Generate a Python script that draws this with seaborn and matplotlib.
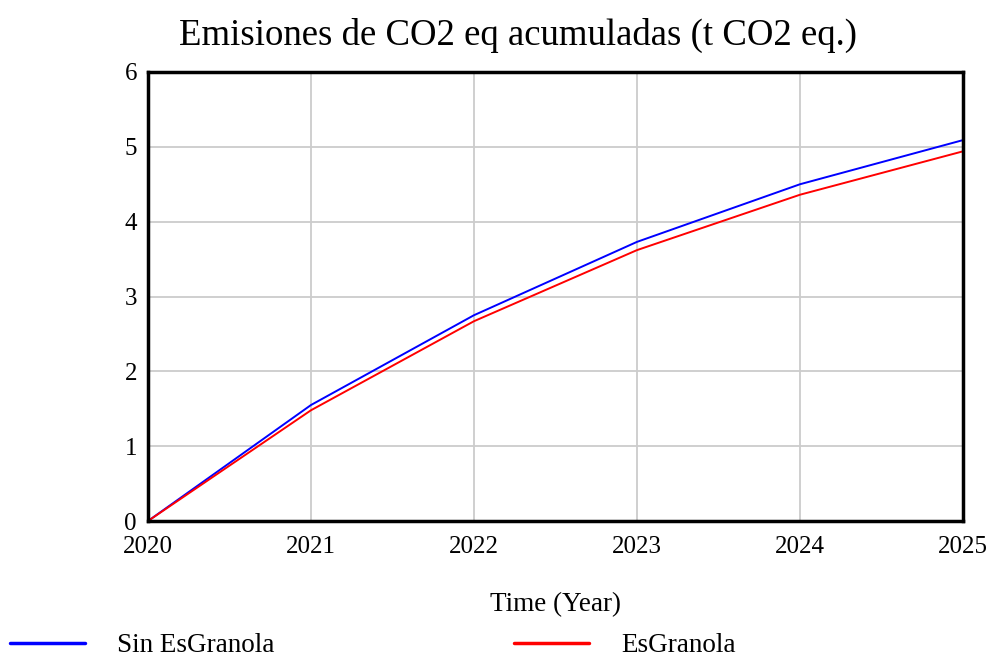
import pandas as pd
import matplotlib.pyplot as plt
import seaborn as sns

years = [2020, 2021, 2022, 2023, 2024, 2025]
sin_esgranola = [0.0, 1.55, 2.75, 3.73, 4.50, 5.09]
esgranola = [0.0, 1.48, 2.67, 3.62, 4.36, 4.94]

df = pd.DataFrame({
    'Year': years * 2,
    'Value': sin_esgranola + esgranola,
    'Serie': ['Sin EsGranola'] * len(years) + ['EsGranola'] * len(years),
})

sns.set_style('white')
plt.rcParams['font.family'] = ['Liberation Serif', 'DejaVu Serif']
plt.rcParams['text.color'] = 'black'
plt.rcParams['xtick.color'] = 'black'
plt.rcParams['ytick.color'] = 'black'
plt.rcParams['axes.labelcolor'] = 'black'

fig = plt.figure(figsize=(9.94, 6.60), dpi=100)
ax = fig.add_axes([148 / 994, 1 - 521 / 660, (963 - 148) / 994, (521 - 72) / 660])
sns.lineplot(data=df, x='Year', y='Value', hue='Serie', ax=ax,
             palette={'Sin EsGranola': 'blue', 'EsGranola': 'red'}, linewidth=1.4, legend=False)

ax.set_xlim(2020, 2025)
ax.set_ylim(0, 6)
ax.set_xticks(years)
ax.set_yticks(range(7))
ax.grid(True, color='#cccccc', linewidth=1.3)
ax.tick_params(axis='y', length=0, labelsize=18, pad=8)
ax.tick_params(axis='x', length=0, labelsize=18, pad=11)
for s in ax.spines.values():
    s.set_color('black')
    s.set_linewidth(2.5)
ax.set_xlabel('Time (Year)', fontsize=19.5, labelpad=24)
ax.set_ylabel('')

fig.text(518 / 994, 1 - 35 / 660, 'Emisiones de CO2 eq acumuladas (t CO2 eq.)',
         ha='center', va='center', fontsize=26.5)

h1, = ax.plot([], [], color='blue', linewidth=2.5)
h2, = ax.plot([], [], color='red', linewidth=2.5)
fig.legend([h1, h2], ['Sin EsGranola', 'EsGranola'], loc='center left',
           bbox_to_anchor=(-0.006, 1 - 646 / 660), ncol=2, frameon=False, fontsize=19.5,
           handlelength=2.75, handletextpad=1.2, columnspacing=8.85, borderaxespad=0.2)

fig.savefig('out.png', dpi=100)
